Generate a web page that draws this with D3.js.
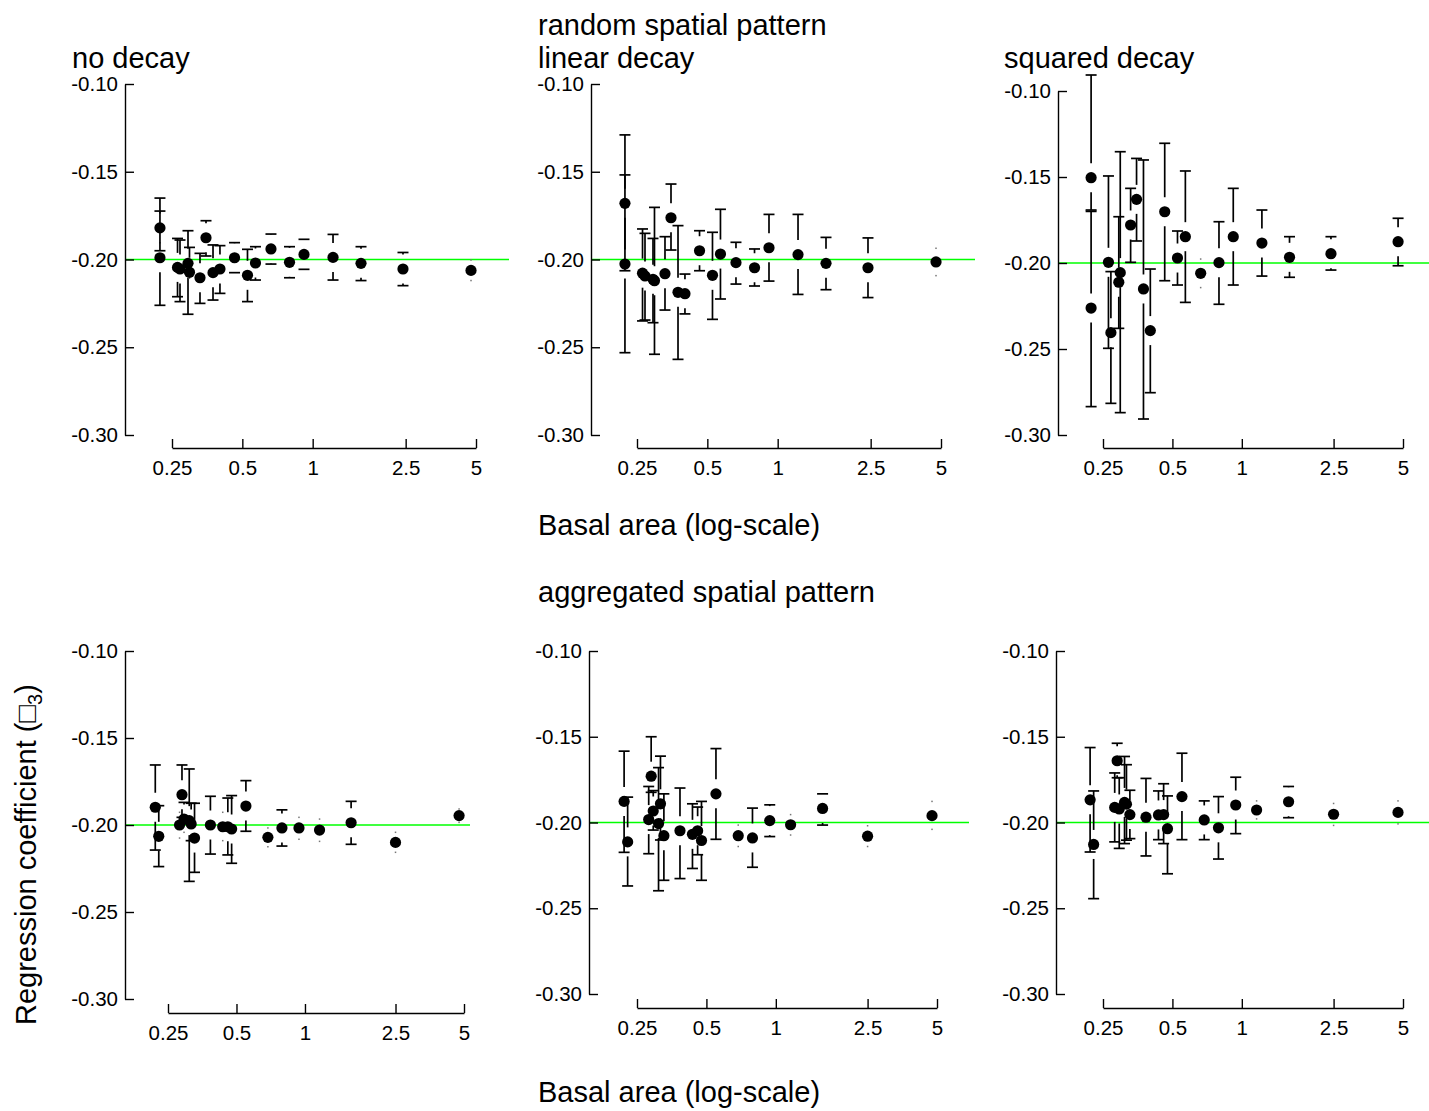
<!DOCTYPE html>
<html>
<head>
<meta charset="utf-8">
<script src="https://cdnjs.cloudflare.com/ajax/libs/d3/7.8.5/d3.min.js"></script>
<style>
body { margin: 0; background: #fff; }
text { font-family: 'Liberation Sans', Arial, sans-serif; fill: #000; }
</style>
</head>
<body>
<div id="chart"></div>
<script>
var width = 1429,
    height = 1111;

// axis ticks
var xTickValues = [0.25, 0.5, 1, 2.5, 5];
var xTickLabels = ['0.25', '0.5', '1', '2.5', '5'];
var yTickValues = [-0.30, -0.25, -0.20, -0.15, -0.10];
var yTickLabels = ['-0.30', '-0.25', '-0.20', '-0.15', '-0.10'];
var trueValue = -0.20;

var decayTitles = ['no decay', 'linear decay', 'squared decay'];
var patternTitles = ['random spatial pattern', 'aggregated spatial pattern'];
var xLabel = 'Basal area (log-scale)';

// basal area classes
var basalRandom = [0.222, 0.222, 0.264, 0.2705, 0.2927, 0.297, 0.3294, 0.3495, 0.3745, 0.401,
    0.463, 0.526, 0.569, 0.663, 0.796, 0.918, 1.222, 1.61, 2.435, 4.76];
var basalAggregated = [0.2198, 0.2277, 0.281, 0.288, 0.294, 0.310, 0.316, 0.327, 0.384, 0.435,
    0.458, 0.476, 0.550, 0.687, 0.792, 0.941, 1.159, 1.595, 2.5, 4.757];

// random pattern, no decay
var randNoEst = [-0.182, -0.199, -0.2045, -0.2054, -0.2022, -0.2073, -0.2104, -0.1876, -0.2075, -0.2054,
    -0.199, -0.209, -0.202, -0.194, -0.2016, -0.1971, -0.1988, -0.2022, -0.2054, -0.2062];
var randNoHi = [-0.165, -0.1724, -0.188, -0.1889, -0.1836, -0.1931, -0.1965, -0.1779, -0.1917, -0.1921,
    -0.1904, -0.1942, -0.1927, -0.1855, -0.1927, -0.1885, -0.1857, -0.1927, -0.196, -0.2003];
var randNoLo = [-0.195, -0.2261, -0.2212, -0.224, -0.2312, -0.2107, -0.225, -0.198, -0.2231, -0.2193,
    -0.2075, -0.224, -0.2117, -0.2026, -0.2104, -0.2056, -0.2117, -0.212, -0.2149, -0.212];

// random pattern, linear decay
var randLinEst = [-0.168, -0.2026, -0.2078, -0.2094, -0.2113, -0.2121, -0.2081, -0.1762, -0.2187, -0.2195,
    -0.195, -0.209, -0.1969, -0.2018, -0.2047, -0.1933, -0.1972, -0.2022, -0.2047, -0.2014];
var randLinHi = [-0.129, -0.1518, -0.1826, -0.1851, -0.188, -0.1703, -0.187, -0.157, -0.1807, -0.2083,
    -0.1836, -0.1845, -0.1714, -0.1902, -0.194, -0.1743, -0.1743, -0.1874, -0.1877, -0.1936];
var randLinLo = [-0.2064, -0.2531, -0.235, -0.2345, -0.236, -0.254, -0.2288, -0.1946, -0.2569, -0.231,
    -0.2064, -0.2341, -0.2225, -0.214, -0.2151, -0.2123, -0.2199, -0.2172, -0.2217, -0.2092];

// random pattern, squared decay
var randSqEst = [-0.1504, -0.2262, -0.1996, -0.2405, -0.2112, -0.2056, -0.1779, -0.163, -0.2151, -0.2393,
    -0.1702, -0.1971, -0.1847, -0.206, -0.1998, -0.1847, -0.1884, -0.1967, -0.1946, -0.1876];
var randSqHi = [-0.0907, -0.17, -0.1494, -0.205, -0.1731, -0.1353, -0.1566, -0.1392, -0.1401, -0.2035,
    -0.1304, -0.1814, -0.1465, -0.1977, -0.176, -0.1566, -0.1692, -0.1847, -0.1847, -0.174];
var randSqLo = [-0.1692, -0.2835, -0.2496, -0.2816, -0.238, -0.287, -0.1996, -0.1872, -0.2907, -0.2754,
    -0.2103, -0.2128, -0.2229, -0.2143, -0.224, -0.2128, -0.2076, -0.2083, -0.2041, -0.2016];

// aggregated pattern, no decay
var aggNoEst = [-0.1898, -0.2065, -0.2, -0.1826, -0.1966, -0.1975, -0.1994, -0.2075, -0.2, -0.201,
    -0.201, -0.2023, -0.1891, -0.2071, -0.2017, -0.2017, -0.2029, -0.1987, -0.21, -0.1946];
var aggNoHi = [-0.1655, -0.1889, -0.1927, -0.1655, -0.187, -0.1678, -0.1875, -0.1875, -0.1835, -0.1927,
    -0.1845, -0.1831, -0.1745, -0.2017, -0.1913, -0.1956, -0.1966, -0.1864, -0.2042, -0.1908];
var aggNoLo = [-0.2144, -0.2239, -0.2075, -0.1956, -0.2042, -0.2324, -0.209, -0.2272, -0.2167, -0.209,
    -0.2172, -0.222, -0.2036, -0.2125, -0.2121, -0.2082, -0.2094, -0.2111, -0.2157, -0.1985];

// aggregated pattern, linear decay
var aggLinEst = [-0.1877, -0.2113, -0.1983, -0.173, -0.1933, -0.2006, -0.1891, -0.2077, -0.2048, -0.2069,
    -0.2048, -0.2105, -0.1833, -0.2077, -0.209, -0.1989, -0.2013, -0.1918, -0.208, -0.196];
var aggLinHi = [-0.1584, -0.1852, -0.179, -0.15, -0.1814, -0.168, -0.1613, -0.1833, -0.1799, -0.1891,
    -0.191, -0.1877, -0.1569, -0.2015, -0.1916, -0.1897, -0.1954, -0.1833, -0.2019, -0.1877];
var aggLinLo = [-0.2174, -0.237, -0.2182, -0.1824, -0.2044, -0.2398, -0.2102, -0.2337, -0.2327, -0.2268,
    -0.2188, -0.2337, -0.2098, -0.214, -0.2261, -0.2082, -0.2073, -0.2015, -0.214, -0.204];

// aggregated pattern, squared decay
var aggSqEst = [-0.1868, -0.2128, -0.1912, -0.164, -0.1921, -0.1883, -0.1893, -0.1954, -0.1969, -0.1956,
    -0.1954, -0.2036, -0.1849, -0.1985, -0.2031, -0.1898, -0.1927, -0.1879, -0.1952, -0.1941];
var aggSqHi = [-0.1563, -0.1816, -0.1711, -0.1538, -0.1739, -0.1615, -0.1663, -0.1812, -0.1743, -0.1816,
    -0.1774, -0.1845, -0.1596, -0.1874, -0.1849, -0.1736, -0.1874, -0.179, -0.1889, -0.1874];
var aggSqLo = [-0.2172, -0.2444, -0.2113, -0.1739, -0.2151, -0.2123, -0.2103, -0.2094, -0.2195, -0.21,
    -0.2123, -0.2299, -0.21, -0.21, -0.2213, -0.2065, -0.1979, -0.1972, -0.2017, -0.2008];

// panel frames (pixels)
var panels = [
    { basal: basalRandom, est: randNoEst, hi: randNoHi, lo: randNoLo,
      axisX: 125, yTop: 84, yBottom: 435, x0: 172, x1: 476, xAxisY: 448, right: 509 },
    { basal: basalRandom, est: randLinEst, hi: randLinHi, lo: randLinLo,
      axisX: 591, yTop: 84, yBottom: 435, x0: 637, x1: 941, xAxisY: 448, right: 975 },
    { basal: basalRandom, est: randSqEst, hi: randSqHi, lo: randSqLo,
      axisX: 1058, yTop: 91, yBottom: 435, x0: 1103, x1: 1403, xAxisY: 448, right: 1429 },
    { basal: basalAggregated, est: aggNoEst, hi: aggNoHi, lo: aggNoLo,
      axisX: 125, yTop: 651, yBottom: 999, x0: 168, x1: 464, xAxisY: 1013, right: 470 },
    { basal: basalAggregated, est: aggLinEst, hi: aggLinHi, lo: aggLinLo,
      axisX: 589, yTop: 651, yBottom: 994, x0: 637, x1: 937, xAxisY: 1008, right: 969 },
    { basal: basalAggregated, est: aggSqEst, hi: aggSqHi, lo: aggSqLo,
      axisX: 1056, yTop: 651, yBottom: 994, x0: 1103, x1: 1403, xAxisY: 1008, right: 1429 }
];

var gap = 14.5,
    capHalf = 5.5,
    dotRadius = 5.6;

var svg = d3.select('#chart').append('svg')
    .attr('width', width)
    .attr('height', height)
    .style('display', 'block');

function styleAxis(g) {
    g.attr('font-family', "'Liberation Sans', Arial, sans-serif")
        .attr('font-size', '20.5px');
    g.selectAll('path, line').attr('stroke', '#000').attr('stroke-width', 1.4);
    g.selectAll('text').attr('fill', '#000');
}

function drawPanel(p) {
    var g = svg.append('g');

    var x = d3.scaleLog().domain([0.25, 5]).range([p.x0, p.x1]);
    var y = d3.scaleLinear().domain([-0.30, -0.10]).range([p.yBottom, p.yTop]);

    g.append('line')
        .attr('x1', p.axisX)
        .attr('x2', p.right)
        .attr('y1', y(trueValue))
        .attr('y2', y(trueValue))
        .attr('stroke', '#00ff00')
        .attr('stroke-width', 1.5);

    var yAxis = d3.axisLeft(y)
        .tickValues(yTickValues)
        .tickFormat(function(d, i) { return yTickLabels[i]; })
        .tickSizeInner(-9)
        .tickSizeOuter(0)
        .tickPadding(7);

    g.append('g')
        .attr('transform', 'translate(' + p.axisX + ',0)')
        .call(yAxis)
        .call(styleAxis);

    var xAxis = d3.axisBottom(x)
        .tickValues(xTickValues)
        .tickFormat(function(d, i) { return xTickLabels[i]; })
        .tickSizeInner(-9)
        .tickSizeOuter(0)
        .tickPadding(12);

    g.append('g')
        .attr('transform', 'translate(0,' + p.xAxisY + ')')
        .call(xAxis)
        .call(styleAxis);

    var rows = d3.range(p.est.length).map(function(i) {
        return { x: p.basal[i], est: p.est[i], hi: p.hi[i], lo: p.lo[i] };
    });

    // confidence intervals, with a gap around each point
    var bars = g.append('g').attr('stroke', '#000').attr('stroke-width', 1.7);

    rows.forEach(function(d) {
        var cx = x(d.x), cy = y(d.est);
        [[y(d.hi), -1], [y(d.lo), 1]].forEach(function(e) {
            var end = e[0], dir = e[1];
            if ((end - cy) * dir > gap) {
                bars.append('line')
                    .attr('x1', cx).attr('x2', cx)
                    .attr('y1', cy + dir * gap).attr('y2', end);
                bars.append('line')
                    .attr('x1', cx - capHalf).attr('x2', cx + capHalf)
                    .attr('y1', end).attr('y2', end);
            } else {
                g.append('rect')
                    .attr('x', cx - 0.75).attr('y', end - 0.75)
                    .attr('width', 1.5).attr('height', 1.5)
                    .attr('fill', '#777');
            }
        });
    });

    g.append('g').selectAll('circle')
        .data(rows)
        .enter().append('circle')
        .attr('cx', function(d) { return x(d.x); })
        .attr('cy', function(d) { return y(d.est); })
        .attr('r', dotRadius)
        .attr('fill', '#000');
}

panels.forEach(drawPanel);

// titles
var textSize = '29px';

svg.append('text').attr('x', 538).attr('y', 35).attr('font-size', textSize).text(patternTitles[0]);
svg.append('text').attr('x', 538).attr('y', 602).attr('font-size', textSize).text(patternTitles[1]);

svg.selectAll('.decay')
    .data(decayTitles)
    .enter().append('text')
    .attr('class', 'decay')
    .attr('x', function(d, i) { return [72, 538, 1004][i]; })
    .attr('y', 68)
    .attr('font-size', textSize)
    .text(function(d) { return d; });

svg.append('text').attr('x', 538).attr('y', 535).attr('font-size', textSize).text(xLabel);
svg.append('text').attr('x', 538).attr('y', 1102).attr('font-size', textSize).text(xLabel);

var yLab = svg.append('text')
    .attr('transform', 'translate(36,1025) rotate(-90)')
    .attr('font-size', textSize);
yLab.append('tspan').text('Regression coefficient (\u25A1');
yLab.append('tspan').attr('font-size', '20px').attr('dy', 6).text('3');
yLab.append('tspan').attr('dy', -6).text(')');
</script>
</body>
</html>
